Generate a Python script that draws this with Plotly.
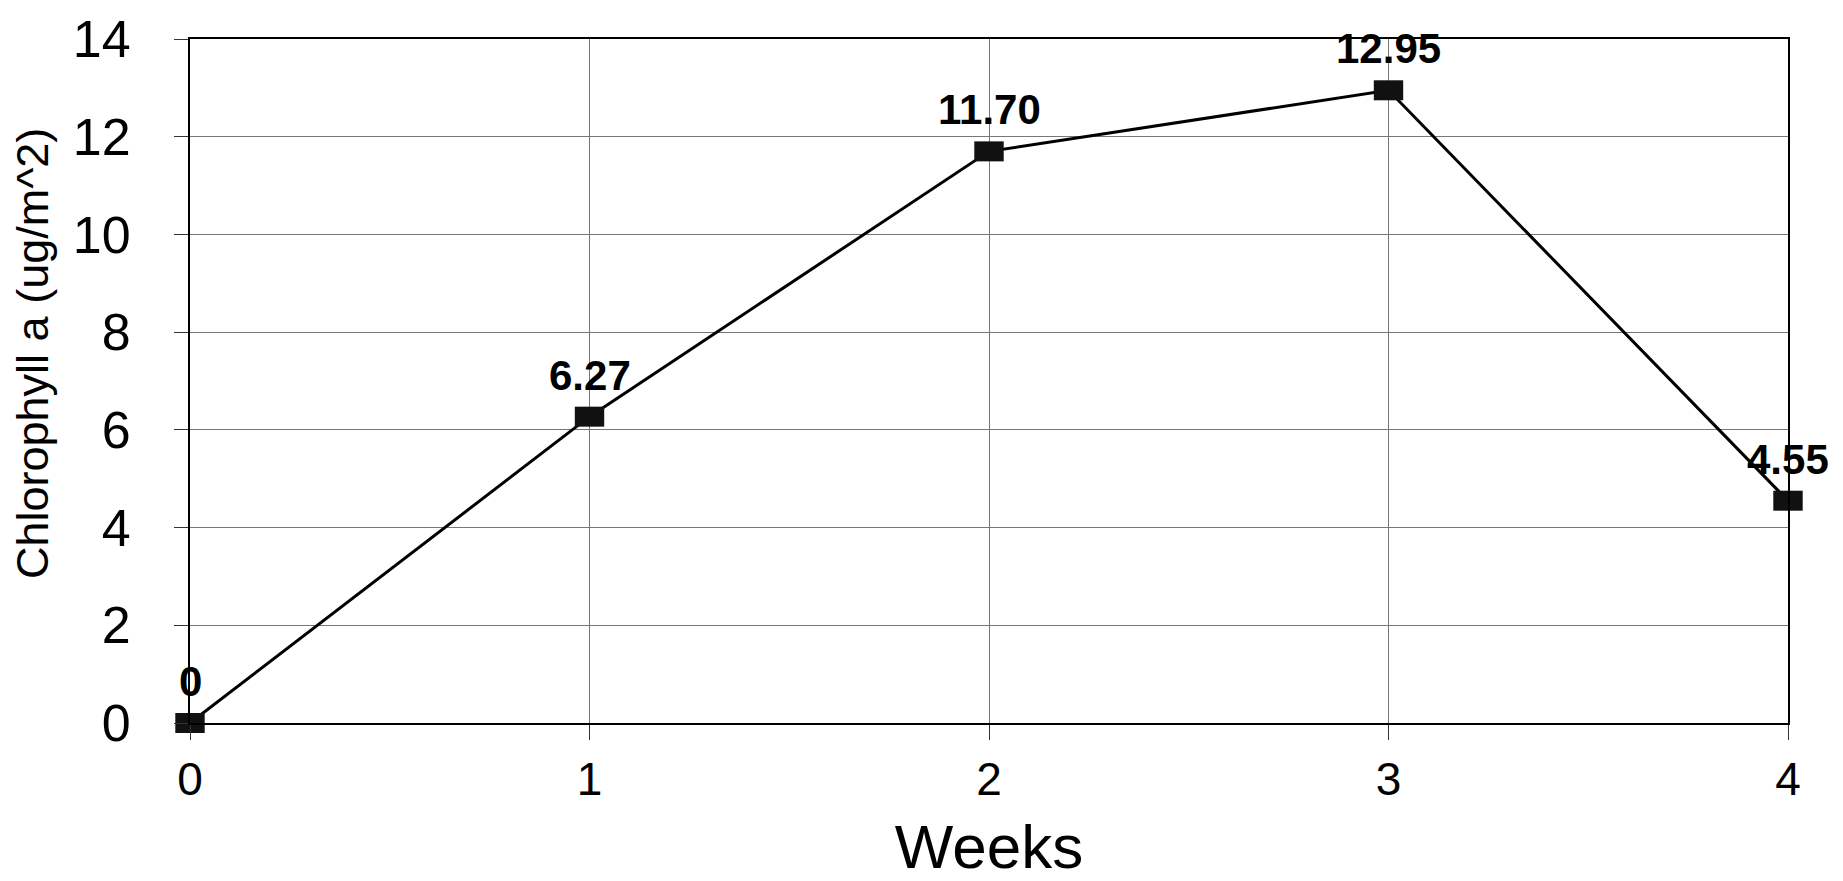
import plotly.graph_objects as go

weeks = [0, 1, 2, 3, 4]
chlorophyll = [0, 6.27, 11.70, 12.95, 4.55]
labels = ["0", "6.27", "11.70", "12.95", "4.55"]
x_ticks = [0, 1, 2, 3, 4]
y_ticks = [0, 2, 4, 6, 8, 10, 12, 14]

FONT = "Liberation Sans, Arial, sans-serif"
W, H = 1843, 881
L, R, T, B = 182, 63, 31, 166

fig = go.Figure()
fig.add_trace(go.Scatter(
    x=weeks, y=chlorophyll, mode="lines+markers",
    line=dict(color="black", width=3),
    marker=dict(symbol="line-ew", size=21, line=dict(color="#111", width=20)),
    cliponaxis=False, showlegend=False,
))

for xv, yv, t in zip(weeks, chlorophyll, labels):
    fig.add_annotation(x=xv, y=yv, text=f"<b>{t}</b>", showarrow=False,
                       xanchor="center", yanchor="bottom", yshift=16,
                       font=dict(family=FONT, size=42, color="black"))

pw, ph = W - L - R, H - T - B
fig.add_annotation(xref="paper", yref="paper",
                   x=(24 - L) / pw, y=(H - B - 346) / ph,
                   text="Chlorophyll a (ug/m^2)", textangle=-90, showarrow=False,
                   xanchor="center", yanchor="middle",
                   font=dict(family=FONT, size=45, color="black"))

fig.update_layout(
    width=W, height=H,
    margin=dict(l=L, r=R, t=T, b=B, autoexpand=False),
    paper_bgcolor="white", plot_bgcolor="white",
    font=dict(family=FONT, color="black"),
    xaxis=dict(range=[0, 4], tickvals=x_ticks, ticktext=[str(v) for v in x_ticks],
               showgrid=True, gridcolor="#777", gridwidth=1,
               showline=True, linecolor="black", linewidth=2, mirror=True,
               ticks="outside", ticklen=15, tickcolor="#333", tickwidth=1,
               tickfont=dict(size=46, family=FONT), zeroline=False,
               title=dict(text="Weeks", font=dict(size=62, family=FONT), standoff=20)),
    yaxis=dict(range=[0, 14], tickvals=y_ticks,
               showgrid=True, gridcolor="#777", gridwidth=1,
               showline=True, linecolor="black", linewidth=2, mirror=True,
               ticks="outside", ticklen=14, tickcolor="#333", tickwidth=1,
               ticklabelstandoff=33,
               tickfont=dict(size=52, family=FONT), zeroline=False),
)

fig.write_html("out.html")
